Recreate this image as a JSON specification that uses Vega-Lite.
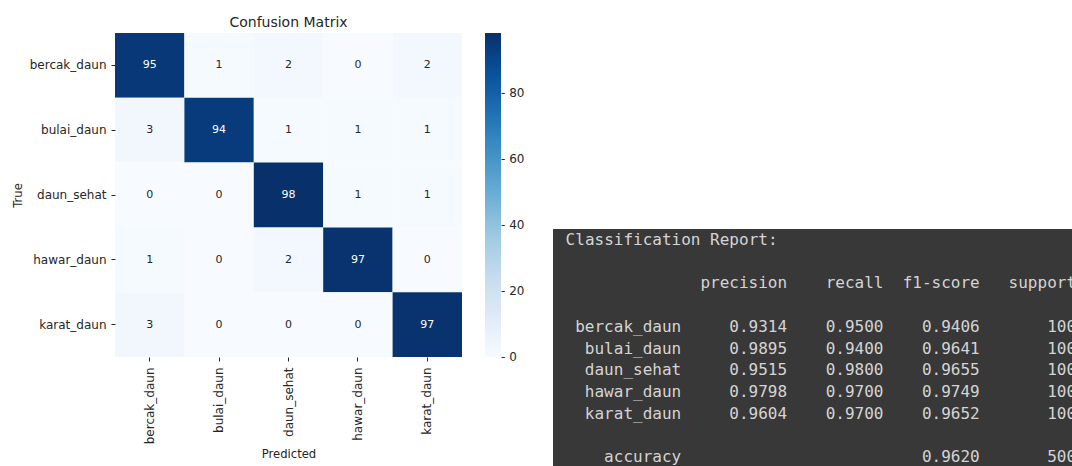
{
  "$schema": "https://vega.github.io/schema/vega-lite/v6.json",
  "padding": {"left": 12, "top": 16, "right": 0, "bottom": 0},
  "background": "white",
  "config": {
    "view": {"stroke": null},
    "font": "DejaVu Sans",
    "legend": {"padding": 0}
  },
  "datasets": {
    "cm": [
      {"actual": "bercak_daun", "predicted": "bercak_daun", "count": 95},
      {"actual": "bercak_daun", "predicted": "bulai_daun", "count": 1},
      {"actual": "bercak_daun", "predicted": "daun_sehat", "count": 2},
      {"actual": "bercak_daun", "predicted": "hawar_daun", "count": 0},
      {"actual": "bercak_daun", "predicted": "karat_daun", "count": 2},
      {"actual": "bulai_daun", "predicted": "bercak_daun", "count": 3},
      {"actual": "bulai_daun", "predicted": "bulai_daun", "count": 94},
      {"actual": "bulai_daun", "predicted": "daun_sehat", "count": 1},
      {"actual": "bulai_daun", "predicted": "hawar_daun", "count": 1},
      {"actual": "bulai_daun", "predicted": "karat_daun", "count": 1},
      {"actual": "daun_sehat", "predicted": "bercak_daun", "count": 0},
      {"actual": "daun_sehat", "predicted": "bulai_daun", "count": 0},
      {"actual": "daun_sehat", "predicted": "daun_sehat", "count": 98},
      {"actual": "daun_sehat", "predicted": "hawar_daun", "count": 1},
      {"actual": "daun_sehat", "predicted": "karat_daun", "count": 1},
      {"actual": "hawar_daun", "predicted": "bercak_daun", "count": 1},
      {"actual": "hawar_daun", "predicted": "bulai_daun", "count": 0},
      {"actual": "hawar_daun", "predicted": "daun_sehat", "count": 2},
      {"actual": "hawar_daun", "predicted": "hawar_daun", "count": 97},
      {"actual": "hawar_daun", "predicted": "karat_daun", "count": 0},
      {"actual": "karat_daun", "predicted": "bercak_daun", "count": 3},
      {"actual": "karat_daun", "predicted": "bulai_daun", "count": 0},
      {"actual": "karat_daun", "predicted": "daun_sehat", "count": 0},
      {"actual": "karat_daun", "predicted": "hawar_daun", "count": 0},
      {"actual": "karat_daun", "predicted": "karat_daun", "count": 97}
    ],
    "report": [
      {"cls": "bercak_daun", "precision": 0.9314, "recall": 0.95, "f1": 0.9406, "support": 100},
      {"cls": "bulai_daun", "precision": 0.9895, "recall": 0.94, "f1": 0.9641, "support": 100},
      {"cls": "daun_sehat", "precision": 0.9515, "recall": 0.98, "f1": 0.9655, "support": 100},
      {"cls": "hawar_daun", "precision": 0.9798, "recall": 0.97, "f1": 0.9749, "support": 100},
      {"cls": "karat_daun", "precision": 0.9604, "recall": 0.97, "f1": 0.9652, "support": 100},
      {"cls": "accuracy", "precision": null, "recall": null, "f1": 0.962, "support": 500}
    ]
  },
  "resolve": {"scale": {"color": "independent"}, "legend": {"color": "independent"}},
  "spacing": 28,
  "hconcat": [
    {
      "data": {"name": "cm"},
      "width": 347,
      "height": 324,
      "title": {"text": "Confusion Matrix", "fontSize": 14, "fontWeight": "normal", "color": "#262626", "font": "DejaVu Sans", "baseline": "alphabetic", "offset": -8},
      "encoding": {
        "x": {
          "field": "predicted", "type": "nominal",
          "sort": ["bercak_daun", "bulai_daun", "daun_sehat", "hawar_daun", "karat_daun"],
          "scale": {"paddingInner": 0, "paddingOuter": 0},
          "axis": {"title": "Predicted", "labelAngle": -90, "labelAlign": "right", "labelBaseline": "middle", "labelFontSize": 12, "labelColor": "#262626", "labelFont": "DejaVu Sans", "titleFont": "DejaVu Sans", "titleFontSize": 11.6, "titleFontWeight": "normal", "titleColor": "#262626", "tickSize": 4, "tickColor": "#262626", "domain": false, "grid": false, "labelPadding": 6, "titlePadding": 5}
        },
        "y": {
          "field": "actual", "type": "nominal",
          "sort": ["bercak_daun", "bulai_daun", "daun_sehat", "hawar_daun", "karat_daun"],
          "scale": {"paddingInner": 0, "paddingOuter": 0},
          "axis": {"title": "True", "labelFontSize": 12, "labelColor": "#262626", "labelFont": "DejaVu Sans", "titleFont": "DejaVu Sans", "titleFontSize": 11.6, "titleFontWeight": "normal", "titleColor": "#262626", "tickSize": 4, "tickColor": "#262626", "domain": false, "grid": false, "labelPadding": 5, "titlePadding": 6}
        }
      },
      "layer": [
        {
          "mark": {"type": "rect"},
          "encoding": {
            "color": {
              "field": "count", "type": "quantitative",
              "scale": {
                "domain": [-0.001, 12.25, 24.5, 36.75, 49, 61.25, 73.5, 85.75, 98],
                "range": ["#f7fbff", "#deebf7", "#c6dbef", "#9ecae1", "#6baed6", "#4292c6", "#2171b5", "#08519c", "#08306b"],
                "interpolate": "rgb"
              },
              "legend": {
                "title": null, "orient": "right", "direction": "vertical", "type": "gradient",
                "gradientLength": 324, "gradientThickness": 16, "offset": 23,
                "values": [0, 20, 40, 60, 80], "labelExpr": "'- ' + datum.label",
                "labelOffset": 0, "labelFontSize": 12, "labelColor": "#262626", "labelFont": "DejaVu Sans",
                "labelBaseline": "middle", "labelOverlap": false, "gradientStrokeWidth": 0
              }
            }
          }
        },
        {
          "mark": {"type": "text", "fontSize": 11, "font": "DejaVu Sans"},
          "encoding": {
            "text": {"field": "count", "type": "quantitative"},
            "color": {"condition": {"test": "datum.count > 49", "value": "#ffffff"}, "value": "#262626"}
          }
        }
      ]
    },
    {
      "spacing": 0,
      "vconcat": [
        {
          "width": 519,
          "height": 196,
          "data": {"values": []},
          "mark": "text",
          "encoding": {}
        },
        {
          "width": 519,
          "height": 237,
          "view": {"fill": "#383838", "stroke": null},
          "data": {"name": "report"},
          "encoding": {
            "y": {
              "field": "cls", "type": "nominal",
              "scale": {"type": "band", "domain": ["Classification Report:", "gap1", "header", "gap2", "bercak_daun", "bulai_daun", "daun_sehat", "hawar_daun", "karat_daun", "gap3", "accuracy"], "paddingInner": 0, "paddingOuter": 0, "range": [0, 239]},
              "axis": null
            }
          },
          "layer": [
            {
              "data": {"values": [{"t": "Classification Report:"}]},
              "mark": {"type": "text", "font": "DejaVu Sans Mono", "fontSize": 16, "color": "#d4d4d4", "align": "left", "baseline": "middle", "clip": true},
              "encoding": {
                "x": {"datum": 0, "type": "quantitative", "scale": {"domain": [-1.31, 52.58], "nice": false, "zero": false}, "axis": null},
                "y": {"datum": "Classification Report:", "type": "nominal"},
                "text": {"field": "t"}
              }
            },
            {
              "data": {"values": [{"h": "precision"}]},
              "mark": {"type": "text", "font": "DejaVu Sans Mono", "fontSize": 16, "color": "#d4d4d4", "align": "right", "baseline": "middle", "clip": true},
              "encoding": {
                "x": {"datum": 23, "type": "quantitative"},
                "y": {"datum": "header", "type": "nominal"},
                "text": {"field": "h"}
              }
            },
            {
              "data": {"values": [{"h": "recall"}]},
              "mark": {"type": "text", "font": "DejaVu Sans Mono", "fontSize": 16, "color": "#d4d4d4", "align": "right", "baseline": "middle", "clip": true},
              "encoding": {
                "x": {"datum": 33, "type": "quantitative"},
                "y": {"datum": "header", "type": "nominal"},
                "text": {"field": "h"}
              }
            },
            {
              "data": {"values": [{"h": "f1-score"}]},
              "mark": {"type": "text", "font": "DejaVu Sans Mono", "fontSize": 16, "color": "#d4d4d4", "align": "right", "baseline": "middle", "clip": true},
              "encoding": {
                "x": {"datum": 43, "type": "quantitative"},
                "y": {"datum": "header", "type": "nominal"},
                "text": {"field": "h"}
              }
            },
            {
              "data": {"values": [{"h": "support"}]},
              "mark": {"type": "text", "font": "DejaVu Sans Mono", "fontSize": 16, "color": "#d4d4d4", "align": "right", "baseline": "middle", "clip": true},
              "encoding": {
                "x": {"datum": 53, "type": "quantitative"},
                "y": {"datum": "header", "type": "nominal"},
                "text": {"field": "h"}
              }
            },
            {
              "mark": {"type": "text", "font": "DejaVu Sans Mono", "fontSize": 16, "color": "#d4d4d4", "align": "right", "baseline": "middle", "clip": true},
              "encoding": {
                "x": {"datum": 12, "type": "quantitative"},
                "text": {"field": "cls"}
              }
            },
            {
              "transform": [{"filter": "isValid(datum.precision)"}],
              "mark": {"type": "text", "font": "DejaVu Sans Mono", "fontSize": 16, "color": "#d4d4d4", "align": "right", "baseline": "middle", "clip": true},
              "encoding": {
                "x": {"datum": 23, "type": "quantitative"},
                "text": {"field": "precision", "type": "quantitative", "format": ".4f"}
              }
            },
            {
              "transform": [{"filter": "isValid(datum.recall)"}],
              "mark": {"type": "text", "font": "DejaVu Sans Mono", "fontSize": 16, "color": "#d4d4d4", "align": "right", "baseline": "middle", "clip": true},
              "encoding": {
                "x": {"datum": 33, "type": "quantitative"},
                "text": {"field": "recall", "type": "quantitative", "format": ".4f"}
              }
            },
            {
              "transform": [{"filter": "isValid(datum.f1)"}],
              "mark": {"type": "text", "font": "DejaVu Sans Mono", "fontSize": 16, "color": "#d4d4d4", "align": "right", "baseline": "middle", "clip": true},
              "encoding": {
                "x": {"datum": 43, "type": "quantitative"},
                "text": {"field": "f1", "type": "quantitative", "format": ".4f"}
              }
            },
            {
              "transform": [{"filter": "isValid(datum.support)"}],
              "mark": {"type": "text", "font": "DejaVu Sans Mono", "fontSize": 16, "color": "#d4d4d4", "align": "right", "baseline": "middle", "clip": true},
              "encoding": {
                "x": {"datum": 53, "type": "quantitative"},
                "text": {"field": "support", "type": "quantitative", "format": "d"}
              }
            }
          ]
        }
      ]
    }
  ]
}
